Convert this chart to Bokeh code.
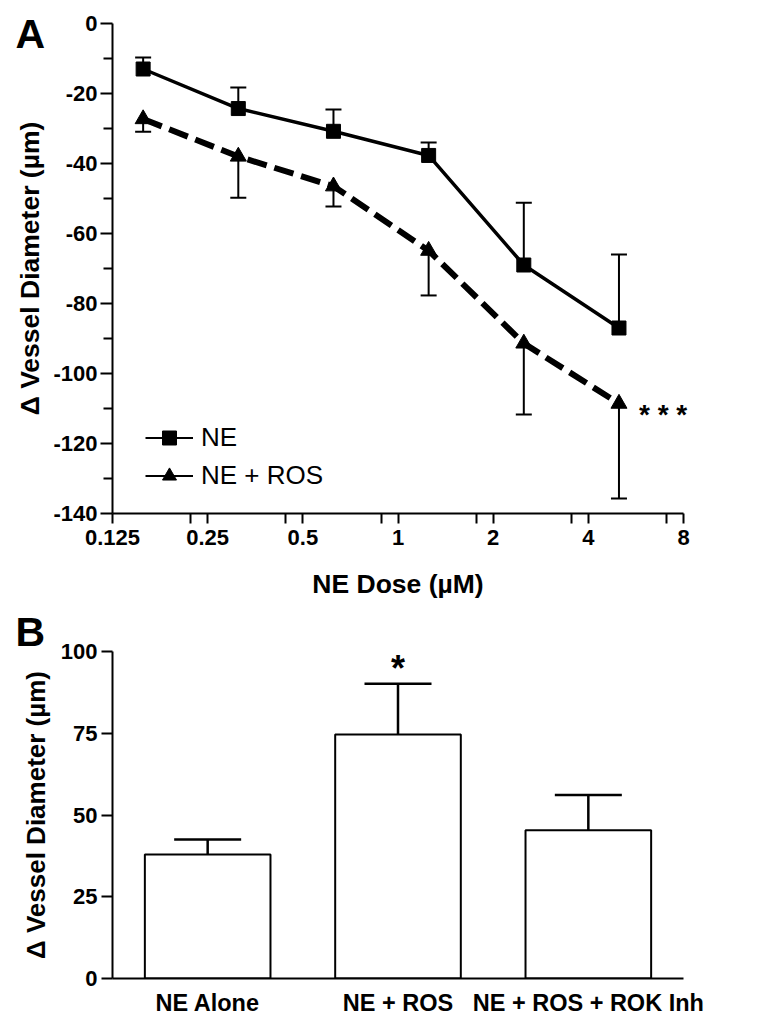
from bokeh.plotting import figure
from bokeh.layouts import column
from bokeh.models import (Range1d, FixedTicker, Whisker, TeeHead, Label, Legend,
                          LegendItem, ColumnDataSource, CDSView, IndexFilter)
from bokeh.embed import file_html
from bokeh.resources import INLINE

FONT = "Liberation Sans"

# ---------------- Panel A data ----------------
dose = [0.15625, 0.3125, 0.625, 1.25, 2.5, 5.0]
ne_mean = [-13.0, -24.3, -30.8, -37.7, -69.0, -87.0]
ne_sem = [3.3, 6.0, 6.2, 3.7, 17.8, 21.0]
ros_mean = [-27.3, -38.0, -46.5, -64.9, -91.4, -108.6]
ros_sem = [3.6, 11.8, 5.8, 12.8, 20.3, 27.1]
x_tick_values = [0.125, 0.25, 0.5, 1, 2, 4, 8]
x_tick_labels = ["0.125", "0.25", "0.5", "1", "2", "4", "8"]
x_minor_ticks = [0.221, 0.442, 0.884, 1.77, 3.54, 7.07]
y_ticks_a = [-140, -120, -100, -80, -60, -40, -20, 0]
y_minor_a = [-130, -110, -90, -70, -50, -30, -10]

# ---------------- Panel B data ----------------
groups = ["NE Alone", "NE + ROS", "NE + ROS + ROK Inh"]
bar_mean = [37.9, 74.6, 45.3]
bar_sem = [4.6, 15.5, 10.8]
y_ticks_b = [0, 25, 50, 75, 100]


def style_axis(ax, label_size="22px", title_size="26.5px"):
    ax.axis_line_width = 2
    ax.axis_line_color = "black"
    ax.major_tick_line_width = 2
    ax.minor_tick_line_width = 2
    ax.major_tick_line_color = "black"
    ax.minor_tick_line_color = "black"
    ax.major_tick_in = 0
    ax.minor_tick_in = 0
    ax.major_label_text_font = FONT
    ax.major_label_text_font_style = "bold"
    ax.major_label_text_font_size = label_size
    ax.major_label_text_color = "black"
    ax.axis_label_text_font = FONT
    ax.axis_label_text_font_style = "bold"
    ax.axis_label_text_font_size = title_size
    ax.axis_label_text_color = "black"


# ================= Panel A =================
pa = figure(width=763, height=603, x_axis_type="log",
            x_range=Range1d(0.125, 8), y_range=Range1d(-140, 0),
            output_backend="svg", toolbar_location=None,
            min_border_left=112, min_border_right=80,
            min_border_top=23, min_border_bottom=90)
pa.outline_line_color = None
pa.grid.visible = False

src_ne = ColumnDataSource(dict(x=dose, y=ne_mean,
                               up=[m + s for m, s in zip(ne_mean, ne_sem)]))
src_ros = ColumnDataSource(dict(x=dose, y=ros_mean,
                                lo=[m - s for m, s in zip(ros_mean, ros_sem)]))

pa.line("x", "y", source=src_ne, line_color="black", line_width=3.5)
pa.line("x", "y", source=src_ros, line_color="black", line_width=6,
        line_dash="20 8")

pa.add_layout(Whisker(source=src_ne, base="x", upper="up", lower="y",
                      line_width=2, line_color="black",
                      upper_head=TeeHead(size=16, line_width=2, line_color="black"),
                      lower_head=None))
pa.add_layout(Whisker(source=src_ros, base="x", upper="y", lower="lo",
                      line_width=2, line_color="black",
                      lower_head=TeeHead(size=16, line_width=2, line_color="black"),
                      upper_head=None))

ne_pts = pa.scatter("x", "y", source=src_ne, marker="square", size=14,
                    fill_color="black", line_color="black")
ros_pts = pa.scatter("x", "y", source=src_ros, marker="triangle", size=16,
                     fill_color="black", line_color="black")

# thin lines used only for the legend keys (single-point view draws nothing)
leg_line_ne = pa.line("x", "y", source=src_ne, view=CDSView(filter=IndexFilter([0])),
                      line_color="black", line_width=2)
leg_line_ros = pa.line("x", "y", source=src_ros, view=CDSView(filter=IndexFilter([0])),
                       line_color="black", line_width=2)
legend = Legend(items=[LegendItem(label="NE", renderers=[leg_line_ne, ne_pts]),
                       LegendItem(label="NE + ROS", renderers=[leg_line_ros, ros_pts])],
                location=(33, 20), glyph_width=48, glyph_height=35, spacing=3,
                padding=0, margin=0, label_standoff=8,
                label_text_font=FONT, label_text_font_size="26px",
                label_text_color="black",
                border_line_alpha=0, background_fill_alpha=0)
pa.add_layout(legend)

xa = pa.xaxis[0]
xa.ticker = FixedTicker(ticks=x_tick_values, minor_ticks=x_minor_ticks)
xa.major_label_overrides = dict(zip(x_tick_values, x_tick_labels))
style_axis(xa)
xa.major_tick_out = 10
xa.minor_tick_out = 10
xa.major_label_standoff = 6
xa.axis_label = "NE Dose (µM)"
xa.axis_label_standoff = 21

ya = pa.yaxis[0]
ya.ticker = FixedTicker(ticks=y_ticks_a, minor_ticks=y_minor_a)
ya.major_label_overrides = {v: str(v) for v in y_ticks_a}
style_axis(ya)
ya.major_tick_out = 12
ya.minor_tick_out = 9
ya.major_label_standoff = 3
ya.axis_label = "Δ Vessel Diameter (µm)"
ya.axis_label_standoff = 5

pa.add_layout(Label(x=15, y=33, x_units="canvas", y_units="canvas", text="A",
                    text_font=FONT, text_font_style="bold", text_font_size="41px",
                    text_color="black", text_baseline="alphabetic"), "right")
pa.add_layout(Label(x=dose[-1], y=ros_mean[-1], x_offset=20, y_offset=-11,
                    text="* * *", text_font=FONT, text_font_style="bold",
                    text_font_size="28px", text_color="black",
                    text_baseline="alphabetic"), "right")

# ================= Panel B =================
xpos = list(range(len(groups)))
pb = figure(width=763, height=421,
            x_range=Range1d(-0.5, 2.5), y_range=Range1d(0, 100),
            output_backend="svg", toolbar_location=None,
            min_border_left=108, min_border_right=50,
            min_border_top=48, min_border_bottom=46)
pb.outline_line_color = None
pb.grid.visible = False

src_b = ColumnDataSource(dict(x=xpos, top=bar_mean,
                              up=[m + s for m, s in zip(bar_mean, bar_sem)],
                              lo=[m - s for m, s in zip(bar_mean, bar_sem)]))
pb.vbar(x="x", top="top", width=0.66, source=src_b, fill_color="white",
        line_color="black", line_width=2)
pb.add_layout(Whisker(source=src_b, base="x", upper="up", lower="lo",
                      line_width=2.5, line_color="black",
                      upper_head=TeeHead(size=67, line_width=2.5, line_color="black"),
                      lower_head=TeeHead(size=67, line_width=2.5, line_color="black")))

xb = pb.xaxis[0]
xb.ticker = FixedTicker(ticks=xpos, minor_ticks=[])
xb.major_label_overrides = dict(zip(xpos, groups))
style_axis(xb, label_size="23.5px")
xb.major_tick_out = 0
xb.minor_tick_out = 0
xb.major_label_standoff = 11

yb = pb.yaxis[0]
yb.ticker = FixedTicker(ticks=y_ticks_b, minor_ticks=[])
style_axis(yb, title_size="26px")
yb.major_tick_out = 11
yb.minor_tick_out = 0
yb.major_label_standoff = 4
yb.axis_label = "Δ Vessel Diameter (µm)"
yb.axis_label_standoff = 7

pb.add_layout(Label(x=15, y=28, x_units="canvas", y_units="canvas", text="B",
                    text_font=FONT, text_font_style="bold", text_font_size="41px",
                    text_color="black", text_baseline="alphabetic"), "right")
pb.add_layout(Label(x=xpos[1], y=bar_mean[1] + bar_sem[1], y_offset=15,
                    text="*", text_font=FONT, text_font_style="bold",
                    text_font_size="36px", text_color="black",
                    text_align="center", text_baseline="alphabetic"))

layout = column(pa, pb)
open("out.html", "w").write(file_html(layout, INLINE))
